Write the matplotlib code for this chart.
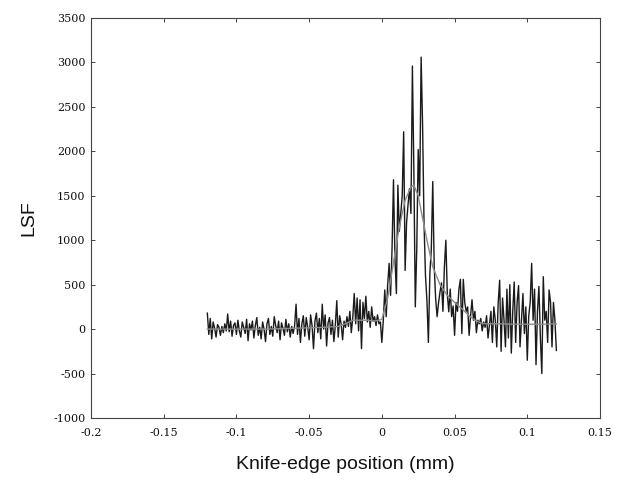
import numpy as np
import matplotlib
matplotlib.use("Agg")
import matplotlib.pyplot as plt
from matplotlib.ticker import FixedLocator, FixedFormatter

# ---- data ----
x_start = -0.120
x_step = 0.001
lsf_values = [
    # -0.120 .. -0.061
    180, -60, 120, -110, 80, 10, -90, 50, 20, -70,
    30, -40, 60, -20, 170, -30, 90, -80, 40, 70,
    -60, 100, -20, -90, 80, 20, -50, 110, -130, 60,
    -10, 90, -100, 40, 130, -70, 20, -110, 80, 0,
    -140, 60, 120, -60, 30, -80, 140, 40, -40, 90,
    -120, 70, 10, -70, 110, -30, 60, -90, 30, -50,
    # -0.060 .. -0.021
    40, 280, -60, 120, -150, 60, 150, -80, 130, 20,
    -120, 160, 40, -220, 90, 180, -40, 120, -110, 280,
    0, 160, -190, 70, 130, -60, 100, -140, 40, 320,
    -90, 150, 60, -120, 90, 20, 140, 30, 200, -40,
    # -0.020 .. 0.000
    130, 400, 60, 350, -20, 330, -220, 300, 120, 370,
    80, 200, 20, 250, 90, 140, 40, 160, 60, 80, -150,
    # 0.001 .. 0.040
    100, 440, 140, 500, 740, 380, 900, 1680, 800, 400,
    1620, 1100, 1300, 1500, 2220, 660, 1200, 1400, 1580, 1300,
    2960, 1800, 250, 900, 2020, 1500, 3060, 2300, 1190, 600,
    320, -150, 620, 900, 1660, 700, 340, 140, 300, 420,
    # 0.041 .. 0.070
    520, 200, 700, 1000, 400, 195, 450, 140, 260, -70,
    300, 200, 450, 560, -50, 560, 300, 200, 250, -70,
    150, 330, 100, 200, -40, 100, 60, 120, -20, 80,
    # 0.071 .. 0.120
    20, 150, -100, 50, 200, -150, 250, 100, -200, 300,
    550, -250, 350, 100, -200, 450, -100, 500, -270, 200,
    530, -150, 300, 490, -200, 100, 400, -50, 250, -350,
    150, 300, 740, 100, 450, -400, 200, 480, -100, -500,
    590, 100, 200, -150, 440, 300, -200, 300, 100, -240,
]

fit_x = [-0.120, -0.100, -0.080, -0.060, -0.040, -0.030, -0.025, -0.020,
         -0.010, -0.005, 0.000, 0.004, 0.008, 0.012, 0.016, 0.020, 0.022,
         0.025, 0.028, 0.031, 0.035, 0.040, 0.045, 0.050, 0.055, 0.060,
         0.065, 0.070, 0.080, 0.090, 0.100, 0.110, 0.120]
fit_y = [0, 0, 0, 10, 20, 30, 60, 100,
         100, 90, 110, 350, 750, 1150, 1450, 1600, 1620,
         1500, 1250, 1000, 700, 500, 380, 300, 230, 150,
         90, 60, 60, 55, 55, 55, 60]

x_ticks = [-0.2, -0.15, -0.1, -0.05, 0, 0.05, 0.1, 0.15]
x_tick_labels = ["-0.2", "-0.15", "-0.1", "-0.05", "0", "0.05", "0.1", "0.15"]
y_ticks = [-1000, -500, 0, 500, 1000, 1500, 2000, 2500, 3000, 3500]
y_tick_labels = ["-1000", "-500", "0", "500", "1000", "1500", "2000",
                 "2500", "3000", "3500"]

x_label = "Knife-edge position (mm)"
y_label = "LSF"

# ---- figure ----
lsf_x = x_start + x_step * np.arange(len(lsf_values))

fig = plt.figure(figsize=(6.25, 4.82), dpi=100)
ax = fig.add_axes([91 / 625, 1 - 418 / 482, (600 - 91) / 625, (418 - 18) / 482])

ax.plot(lsf_x, lsf_values, color="#1a1a1a", lw=1.0, zorder=2)
ax.plot(fit_x, fit_y, color="#8c8c8c", lw=1.0, zorder=3)

ax.set_xlim(-0.2, 0.15)
ax.set_ylim(-1000, 3500)
ax.xaxis.set_major_locator(FixedLocator(x_ticks))
ax.xaxis.set_major_formatter(FixedFormatter(x_tick_labels))
ax.yaxis.set_major_locator(FixedLocator(y_ticks))
ax.yaxis.set_major_formatter(FixedFormatter(y_tick_labels))

ax.tick_params(direction="in", length=3, width=0.7, color="#444",
               top=True, right=True, labelsize=8)
ax.tick_params(axis="x", pad=7)
ax.tick_params(axis="y", pad=4)
for lab in ax.get_xticklabels() + ax.get_yticklabels():
    lab.set_family("DejaVu Serif")
    lab.set_color("#111")

for s in ax.spines.values():
    s.set_linewidth(0.8)
    s.set_color("#444")

ax.set_xlabel(x_label, fontsize=14, family="Liberation Sans", color="#111")
ax.xaxis.set_label_coords(0.5, -0.095)
ax.set_ylabel(y_label, fontsize=14, family="Liberation Sans", color="#111")
ax.yaxis.set_label_coords(-0.106, 0.5)

fig.savefig("out.png", dpi=100)
